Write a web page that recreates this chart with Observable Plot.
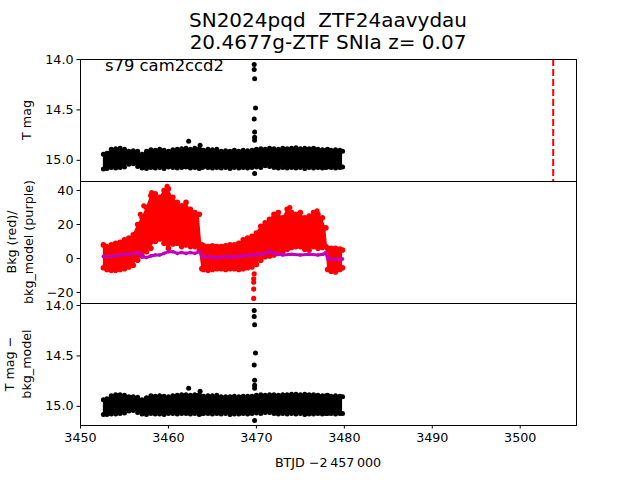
<!DOCTYPE html>
<html><head><meta charset="utf-8">
<script src="https://cdn.jsdelivr.net/npm/d3@7"></script>
<script src="https://cdn.jsdelivr.net/npm/@observablehq/plot@0.6"></script>
<style>
body{margin:0;background:#fff;}
#wrap{position:relative;width:640px;height:480px;overflow:hidden;font-family:"DejaVu Sans",sans-serif;background:#fff}
#wrap svg{position:absolute;left:0}
</style></head><body><div id="wrap"></div>
<script>
// ---------- data ----------
const titleLine1 = "SN2024pqd  ZTF24aavydau";
const titleLine2 = "20.4677g-ZTF SNIa z= 0.07";
const sectorLabel = "s79 cam2ccd2";
const xLabel = "BTJD \u22122\u2009457\u2009000";
const yLabelTop = ["T mag"];
const yLabelMid = ["Bkg (red)/", "bkg_model (purple)"];
const yLabelBot = ["T mag \u2212", "bkg_model"];

const xTicks = [3450, 3460, 3470, 3480, 3490, 3500];
const magTicks = [14.0, 14.5, 15.0];
const bkgTicks = [-20, 0, 20, 40];
const snTime = 3503.75; // red dashed line

// envelope of the dense light-curve cloud (time, bright edge, faint edge)
const tBand = [3452.6, 3453.0, 3453.5, 3454.0, 3454.5, 3455.0, 3455.5, 3456.0, 3456.5, 3457.0,
  3457.5, 3458.0, 3458.5, 3459.0, 3459.5, 3460.0, 3460.5, 3461.0, 3461.5, 3462.0,
  3462.5, 3463.0, 3463.5, 3463.8, 3464.0, 3464.5, 3465.0, 3465.5, 3466.0, 3466.5,
  3467.0, 3467.5, 3468.0, 3468.5, 3469.0, 3469.5, 3470.0, 3470.5, 3471.0, 3471.5,
  3472.0, 3472.5, 3473.0, 3473.5, 3474.0, 3474.5, 3475.0, 3475.5, 3476.0, 3476.5,
  3477.0, 3477.5, 3477.9, 3478.1, 3478.5, 3479.0, 3479.5, 3479.8];
const magHi = [14.94, 14.93, 14.89, 14.885, 14.88, 14.89, 14.91, 14.905, 14.91, 14.94,
  14.91, 14.895, 14.9, 14.89, 14.9, 14.91, 14.895, 14.89, 14.885, 14.88,
  14.89, 14.88, 14.885, 14.9, 14.9, 14.89, 14.895, 14.89, 14.91, 14.905,
  14.91, 14.9, 14.91, 14.9, 14.905, 14.9, 14.89, 14.885, 14.89, 14.88,
  14.885, 14.89, 14.88, 14.885, 14.88, 14.875, 14.885, 14.88, 14.885, 14.88,
  14.89, 14.895, 14.9, 14.89, 14.9, 14.895, 14.9, 14.91];
const magLo = [15.085, 15.08, 15.07, 15.075, 15.07, 15.065, 15.04, 15.035, 15.06, 15.075,
  15.08, 15.07, 15.075, 15.07, 15.08, 15.065, 15.07, 15.075, 15.07, 15.065,
  15.075, 15.07, 15.08, 15.07, 15.065, 15.07, 15.075, 15.07, 15.075, 15.07,
  15.08, 15.07, 15.075, 15.07, 15.075, 15.07, 15.065, 15.07, 15.055, 15.06,
  15.07, 15.075, 15.07, 15.075, 15.07, 15.075, 15.07, 15.08, 15.07, 15.075,
  15.07, 15.075, 15.07, 15.065, 15.07, 15.075, 15.07, 15.065];
const bkgHi = [8, 7, 8, 9, 9.5, 11, 12, 14, 20, 24,
  30, 37, 38, 36, 40, 41, 36, 33, 31, 33,
  29, 27, 26, 8, 7.5, 7, 7.5, 7, 7, 7.5,
  8, 8, 9, 11, 12, 13, 15, 19, 21, 23,
  26, 27, 24, 29, 27, 26, 27, 24, 25, 27,
  26, 24, 18, 6, 6, 6, 5.5, 5];
const bkgLo = [-5.5, -6.5, -7, -7, -6.5, -6, -5, -4, -1, 1.5,
  4, 6, 10, 11.5, 9, 6, 8.5, 9, 7, 8,
  7, 7, 5, -6, -6.5, -7, -6.5, -6, -6, -6.5,
  -6, -6, -6.5, -6, -5.5, -5, -3.5, -1, 1, 1.5,
  2, 3, 4, 5.5, 6.5, 7, 7, 5.5, 5, 7,
  6, 6.5, 7, -6.5, -7.5, -8, -6.5, -5.5];
const detHi = [14.935, 14.925, 14.895, 14.885, 14.885, 14.89, 14.905, 14.905, 14.91, 14.935,
  14.915, 14.895, 14.9, 14.895, 14.9, 14.905, 14.895, 14.89, 14.885, 14.885,
  14.89, 14.885, 14.885, 14.9, 14.9, 14.895, 14.895, 14.89, 14.905, 14.905,
  14.905, 14.9, 14.905, 14.9, 14.9, 14.9, 14.89, 14.885, 14.89, 14.885,
  14.885, 14.89, 14.885, 14.885, 14.88, 14.88, 14.885, 14.88, 14.885, 14.885,
  14.89, 14.895, 14.895, 14.89, 14.9, 14.895, 14.9, 14.905];
const detLo = [15.08, 15.08, 15.075, 15.075, 15.07, 15.065, 15.045, 15.04, 15.06, 15.075,
  15.08, 15.07, 15.075, 15.075, 15.08, 15.07, 15.07, 15.075, 15.07, 15.07,
  15.075, 15.07, 15.08, 15.07, 15.07, 15.07, 15.075, 15.07, 15.075, 15.07,
  15.08, 15.075, 15.075, 15.07, 15.075, 15.07, 15.065, 15.07, 15.06, 15.06,
  15.07, 15.075, 15.07, 15.075, 15.07, 15.075, 15.07, 15.08, 15.075, 15.075,
  15.07, 15.075, 15.07, 15.07, 15.07, 15.075, 15.07, 15.07];

// isolated points
const tMagOut = [3469.75, 3469.75, 3469.8, 3469.9, 3469.75, 3469.8, 3469.8, 3469.8, 3469.8, 3462.3, 3463.6];
const magOut = [14.05, 14.10, 14.19, 14.48, 14.59, 14.72, 14.77, 14.80, 15.13, 14.81, 14.85];
const tDetOut = [3469.75, 3469.75, 3469.8, 3469.9, 3469.75, 3469.8, 3469.8, 3469.8, 3469.8, 3462.3, 3463.6];
const detOut = [14.05, 14.11, 14.19, 14.47, 14.59, 14.74, 14.79, 14.82, 15.14, 14.82, 14.85];
const tBkgOut = [3456.8, 3457.2, 3458.1, 3459.85, 3473.8, 3476.9, 3469.7, 3469.7, 3469.7, 3469.7, 3469.75];
const bkgOut = [26, 31, 38.8, 42.4, 30, 28, -23.5, -18, -14, -12, -9];

// background model (purple)
const tModel = [3452.6, 3453.5, 3454.5, 3455.5, 3456.3, 3456.8, 3457.0, 3457.5, 3458.0, 3458.5,
  3459.0, 3459.5, 3460.0, 3460.5, 3461.0, 3461.5, 3462.0, 3462.5, 3463.0, 3463.6,
  3463.8, 3464.5, 3465.5, 3466.5, 3467.5, 3468.5, 3469.5, 3470.0, 3470.5, 3471.0,
  3471.4, 3471.7, 3472.0, 3472.5, 3473.0, 3474.0, 3475.0, 3476.0, 3477.0, 3477.6,
  3477.9, 3478.1, 3478.5, 3479.0, 3479.8];
const model = [1.2, 1.2, 2.0, 2.5, 3.0, 3.5, 1.0, 0.5, 1.5, 2.0,
  2.0, 3.0, 4.0, 4.0, 3.0, 3.5, 3.0, 3.5, 3.0, 4.0,
  1.0, 1.0, 0.5, 1.0, 1.0, 1.5, 2.0, 2.0, 2.5, 3.0,
  4.5, 3.5, 3.0, 2.5, 2.0, 2.5, 2.0, 2.5, 2.0, 2.5,
  3.5, 0.0, -0.5, -0.5, -0.3];

// ---------- build tables ----------
const topBand = tBand.map((t, i) => ({t, hi: magHi[i], lo: magLo[i]}));
const midBand = tBand.map((t, i) => ({t, hi: bkgHi[i], lo: bkgLo[i]}));
const botBand = tBand.map((t, i) => ({t, hi: detHi[i], lo: detLo[i]}));
const topOut = tMagOut.map((t, i) => ({t, v: magOut[i]}));
const botOut = tDetOut.map((t, i) => ({t, v: detOut[i]}));
const midOut = tBkgOut.map((t, i) => ({t, v: bkgOut[i]}));
const modelData = tModel.map((t, i) => ({t, v: model[i]}));

// ---------- layout ----------
const wrap = document.getElementById("wrap");
const FONT = '"DejaVu Sans", sans-serif';
const ML = 80, MR = 64, W = 640;
const xDomain = [3450, 3506.4];

function bandMarks(data, color, r) {
  return [
    Plot.areaY(data, {x: "t", y1: "lo", y2: "hi", fill: color, clip: true}),
    Plot.dot(data, {x: "t", y: "hi", r, fill: color, clip: true}),
    Plot.dot(data, {x: "t", y: "lo", r, fill: color, clip: true})
  ];
}

function panel({top, height, mt, mb, yDomain, yTicks, yFmt, marks, xAxis}) {
  const svg = Plot.plot({
    width: W, height,
    marginLeft: ML, marginRight: MR, marginTop: mt, marginBottom: mb,
    style: {fontFamily: FONT, fontSize: "12.7px", background: "transparent", overflow: "visible", color: "black"},
    x: {domain: xDomain, axis: null},
    y: {domain: yDomain, axis: null},
    marks: [
      ...marks,
      Plot.frame({stroke: "black", strokeWidth: 1}),
      Plot.axisY({ticks: yTicks, tickFormat: yFmt, tickSize: 3.5, tickPadding: 3.5, label: null, fontSize: "12.7px"}),
      ...(xAxis ? [Plot.axisX({ticks: xTicks, tickFormat: d3.format("d"), tickSize: 3.5, tickPadding: 3.5, label: null, fontSize: "12.7px"})] : [])
    ]
  });
  svg.style.top = top + "px";
  wrap.appendChild(svg);
}

panel({
  top: 0, height: 181, mt: 59, mb: 0,
  yDomain: [15.21, 14.0], yTicks: magTicks, yFmt: d3.format(".1f"),
  marks: [
    ...bandMarks(topBand, "black", 2.5),
    Plot.dot(topOut, {x: "t", y: "v", r: 2.5, fill: "black", clip: true}),
    Plot.ruleX([snTime], {stroke: "red", strokeWidth: 2, strokeDasharray: "7,3", clip: true})
  ]
});

panel({
  top: 181, height: 122, mt: 0, mb: 0,
  yDomain: [-26.5, 45.3], yTicks: bkgTicks, yFmt: d3.format("d"),
  marks: [
    ...bandMarks(midBand, "#ff0000", 2.8),
    Plot.dot(midOut, {x: "t", y: "v", r: 2.6, fill: "#ff0000", clip: true}),
    Plot.line(modelData, {x: "t", y: "v", stroke: "#bf00bf", strokeWidth: 3, clip: true}),
    Plot.dot(modelData, {x: "t", y: "v", r: 1.8, fill: "#bf00bf", clip: true})
  ]
});

panel({
  top: 303, height: 177, mt: 0, mb: 55,
  yDomain: [15.19, 13.98], yTicks: magTicks, yFmt: d3.format(".1f"),
  xAxis: true,
  marks: [
    ...bandMarks(botBand, "black", 2.5),
    Plot.dot(botOut, {x: "t", y: "v", r: 2.5, fill: "black", clip: true})
  ]
});

// ---------- text overlay ----------
const ov = d3.create("svg").attr("width", 640).attr("height", 480)
  .style("top", "0px").style("pointer-events", "none")
  .attr("font-family", FONT).attr("fill", "black");
ov.append("text").attr("x", 328).attr("y", 20).attr("dy", "0.35em").attr("text-anchor", "middle")
  .attr("font-size", 20).style("white-space", "pre").text(titleLine1);
ov.append("text").attr("x", 328).attr("y", 42).attr("dy", "0.35em").attr("text-anchor", "middle")
  .attr("font-size", 20).style("white-space", "pre").text(titleLine2);
ov.append("text").attr("x", 105).attr("y", 71).attr("font-size", 16.4).text(sectorLabel);
ov.append("text").attr("x", 328).attr("y", 463).attr("dy", "0.35em").attr("text-anchor", "middle")
  .attr("font-size", 12.7).style("white-space", "pre").text(xLabel);

function ylab(lines, xs, yc) {
  lines.forEach((s, i) => {
    ov.append("text").attr("transform", `translate(${xs[i]},${yc}) rotate(-90)`)
      .attr("text-anchor", "middle").attr("dy", "0.35em").attr("font-size", 12.7)
      .style("white-space", "pre").text(s);
  });
}
ylab(yLabelTop, [27], 120);
ylab(yLabelMid, [12, 29], 242);
ylab(yLabelBot, [10, 27], 364);
wrap.appendChild(ov.node());
</script>
</body></html>
